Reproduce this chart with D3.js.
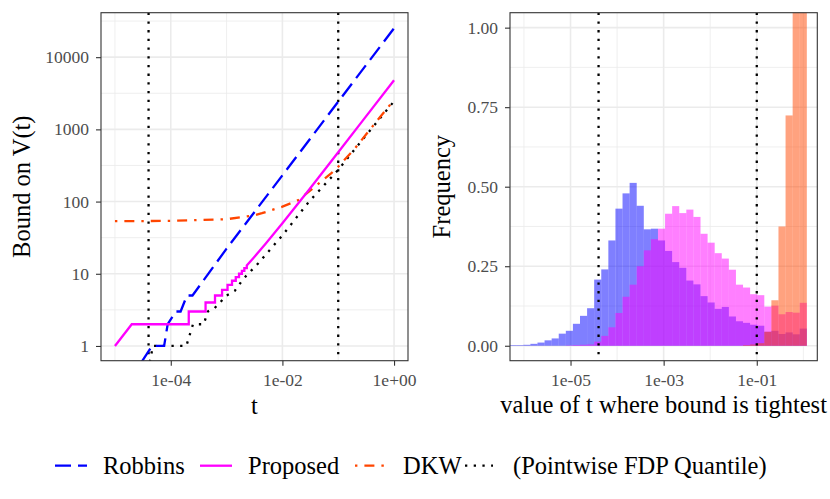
<!DOCTYPE html>
<html>
<head>
<meta charset="utf-8">
<script src="https://cdn.jsdelivr.net/npm/d3@7"></script>
<style>
  body { margin: 0; background: #fff; }
  svg text { font-family: 'Liberation Serif', 'DejaVu Serif', 'Noto Serif', serif; }
</style>
</head>
<body>
<svg id="chart" width="830" height="499"></svg>
<script>
// ---- left panel: bounds on V(t) ----
const robbinsT = [3e-5, 4.6e-5, 7.6e-5, 8.8e-5, 1.23e-4, 1.5e-4, 1.95e-4, 2.45e-4, 1e-3, 1e-2, 1e-1, 1];
const robbinsV = [0.6, 1, 1, 2, 3, 3, 5, 5, 22.3, 231, 2420, 25100];

const proposedT = [1e-5, 2e-5, 2.1e-4, 2.1e-4, 4.2e-4, 4.2e-4, 6.2e-4, 6.2e-4, 8.3e-4, 8.3e-4,
  1.04e-3, 1.04e-3, 1.25e-3, 1.25e-3, 1.46e-3, 1.46e-3, 1.67e-3, 1.67e-3, 1.88e-3, 1.88e-3,
  2.08e-3, 2.08e-3, 2.3e-3, 2.3e-3, 3e-3, 5e-3, 1e-2, 3e-2, 1e-1, 3e-1, 1];
const proposedV = [1, 2, 2, 3, 3, 4, 4, 5, 5, 6,
  6, 7, 7, 8, 8, 9, 9, 10, 10, 11,
  11, 12, 12, 13, 16.4, 26, 50, 146, 482, 1442, 4800];

const dkwT = [1e-5, 1e-4, 1e-3, 3e-3, 4.3e-3, 1e-2, 1.94e-2, 3.84e-2, 7.64e-2, 1e-1, 2e-1, 4.56e-1, 1];
const dkwV = [53.5, 54, 57, 64, 69, 85, 105, 161, 250, 304, 547, 1214, 2555];

const quantT = [4.2e-5, 4.8e-5, 1.9e-4, 2.5e-4, 3.9e-4, 4.6e-4, 6e-4, 1e-3, 1.4e-3, 2e-3, 3.7e-3, 1e-2, 3e-2, 1e-1, 3e-1, 1];
const quantV = [0.6, 1, 1, 2, 2, 3, 3.3, 5, 5.8, 8.5, 14, 34, 100, 275, 790, 2450];

const vlineT = [4e-5, 0.1];

// ---- right panel: histogram of where each bound is tightest (log10 bins) ----
const binStart = -6.319, binWidth = 0.15224;
const robbinsFreq = [0.002, 0.002, 0.003, 0.006, 0.01, 0.017, 0.023, 0.038, 0.047, 0.069, 0.094, 0.118,
  0.208, 0.24, 0.331, 0.431, 0.479, 0.512, 0.44, 0.366, 0.368, 0.331, 0.298, 0.263, 0.245, 0.205,
  0.193, 0.156, 0.136, 0.116, 0.122, 0.092, 0.077, 0.072, 0.066, 0.063, 0.044, 0.047, 0.037, 0.042, 0.036, 0.054];
const proposedFreq = [0, 0, 0, 0, 0, 0, 0, 0, 0.001, 0.002, 0.003, 0.004,
  0.013, 0.031, 0.058, 0.103, 0.154, 0.192, 0.25, 0.30, 0.335, 0.368, 0.415, 0.439, 0.417, 0.428,
  0.405, 0.352, 0.324, 0.291, 0.274, 0.239, 0.192, 0.183, 0.162, 0.159, 0.123, 0.126, 0.099, 0.106, 0.104, 0.135];
const dkwFreq = [0, 0, 0, 0, 0, 0, 0, 0, 0, 0, 0, 0,
  0, 0, 0, 0, 0, 0, 0, 0, 0, 0, 0, 0, 0, 0,
  0, 0, 0, 0, 0, 0, 0, 0.002, 0.004, 0.008, 0.044, 0.143, 0.375, 0.724, 1.6, 2.4];

// ---- ticks ----
const leftXMajor = [1e-4, 1e-2, 1], leftXLabels = ["1e-04", "1e-02", "1e+00"];
const leftXMinor = [1e-5, 1e-3, 1e-1];
const leftYMajor = [1, 10, 100, 1000, 10000], leftYLabels = ["1", "10", "100", "1000", "10000"];
const leftYMinor = [3.1623, 31.623, 316.23, 3162.3, 31623];
const rightXMajor = [1e-5, 1e-3, 1e-1], rightXLabels = ["1e-05", "1e-03", "1e-01"];
const rightXMinor = [1e-6, 1e-4, 1e-2, 1];
const rightYMajor = [0, 0.25, 0.5, 0.75, 1], rightYLabels = ["0.00", "0.25", "0.50", "0.75", "1.00"];
const rightYMinor = [0.125, 0.375, 0.625, 0.875];

const seriesNames = ["Robbins", "Proposed", "DKW", "(Pointwise FDP Quantile)"];
const colors = {Robbins: "#0000FF", Proposed: "#FF00FF", DKW: "#FF4500", quant: "#000000"};
const dashes = {Robbins: "16,7", Proposed: null, DKW: "2.4,7,10,7", quant: "2.3,6.4"};

const FONT = "'Liberation Serif', 'DejaVu Serif', 'Noto Serif', serif";
const svg = d3.select("#chart");
const tickFont = 17.5, titleFont = 24.5;

const xL = d3.scaleLog().domain([Math.pow(10, -5.25), Math.pow(10, 0.25)]).range([101, 408]);
const yL = d3.scaleLog().domain([Math.pow(10, -0.204), Math.pow(10, 4.616)]).range([360.7, 12.7]);
const xR = d3.scaleLog().domain([Math.pow(10, -6.3), Math.pow(10, 0.3)]).range([510, 817.3]);
const yR = d3.scaleLinear().domain([-0.047, 1.047]).range([360.7, 12.7]);

function label(sel, size) {
  return sel.attr("font-family", FONT).style("font-family", FONT).style("font-size", size + "px");
}

function drawFrame(id, x, y, xMajor, xMinor, yMajor, yMinor, xLabels, yLabels) {
  let [x0, x1] = x.range(), [y1, y0] = y.range();
  let g = svg.append("g");
  g.append("clipPath").attr("id", id)
    .append("rect").attr("x", x0).attr("y", y0).attr("width", x1 - x0).attr("height", y1 - y0);
  g.append("rect").attr("x", x0).attr("y", y0).attr("width", x1 - x0).attr("height", y1 - y0)
    .attr("fill", "#fff");

  let grid = g.append("g");
  [[xMinor, 0.8], [xMajor, 1.6]].forEach(([vals, w]) => {
    grid.selectAll(null).data(vals).enter().append("line")
      .attr("x1", d => x(d)).attr("x2", d => x(d)).attr("y1", y0).attr("y2", y1)
      .attr("stroke", "#EBEBEB").attr("stroke-width", w);
  });
  [[yMinor, 0.8], [yMajor, 1.6]].forEach(([vals, w]) => {
    grid.selectAll(null).data(vals).enter().append("line")
      .attr("x1", x0).attr("x2", x1).attr("y1", d => y(d)).attr("y2", d => y(d))
      .attr("stroke", "#EBEBEB").attr("stroke-width", w);
  });

  let xAxis = d3.axisBottom(x).tickValues(xMajor)
    .tickFormat((d, i) => xLabels[i]).tickSize(5).tickPadding(8);
  let yAxis = d3.axisLeft(y).tickValues(yMajor)
    .tickFormat((d, i) => yLabels[i]).tickSize(5).tickPadding(7);

  let ax = svg.append("g").attr("transform", `translate(0,${y1})`).call(xAxis);
  let ay = svg.append("g").attr("transform", `translate(${x0},0)`).call(yAxis);
  [ax, ay].forEach(a => {
    a.attr("font-family", FONT);
    a.select(".domain").remove();
    a.selectAll("line").attr("stroke", "#333").attr("stroke-width", 1.1);
    label(a.selectAll("text").attr("fill", "#4D4D4D"), tickFont);
  });

  let plot = svg.append("g").attr("clip-path", `url(#${id})`);
  return {plot, x0, x1, y0, y1};
}

function drawBorder(p) {
  svg.append("rect").attr("x", p.x0).attr("y", p.y0)
    .attr("width", p.x1 - p.x0).attr("height", p.y1 - p.y0)
    .attr("fill", "none").attr("stroke", "#333").attr("stroke-width", 1.1);
}

function drawVlines(p, x) {
  p.plot.selectAll(null).data(vlineT).enter().append("line")
    .attr("x1", d => x(d)).attr("x2", d => x(d)).attr("y1", p.y0).attr("y2", p.y1)
    .attr("stroke", "#000").attr("stroke-width", 2.3).attr("stroke-dasharray", dashes.quant);
}

// ---- left panel ----
const pL = drawFrame("clipL", xL, yL, leftXMajor, leftXMinor, leftYMajor, leftYMinor, leftXLabels, leftYLabels);
drawVlines(pL, xL);

const lineL = d3.line().x(d => xL(d[0])).y(d => yL(d[1]));
const curves = [
  {key: "quant", data: d3.zip(quantT, quantV)},
  {key: "DKW", data: d3.zip(dkwT, dkwV)},
  {key: "Robbins", data: d3.zip(robbinsT, robbinsV)},
  {key: "Proposed", data: d3.zip(proposedT, proposedV)}
];
pL.plot.selectAll(".curve").data(curves).enter().append("path")
  .attr("class", "curve")
  .attr("d", d => lineL(d.data))
  .attr("fill", "none")
  .attr("stroke", d => colors[d.key])
  .attr("stroke-width", 2.3)
  .attr("stroke-dasharray", d => dashes[d.key]);
drawBorder(pL);

label(svg.append("text"), titleFont).attr("x", (pL.x0 + pL.x1) / 2).attr("y", 414)
  .attr("text-anchor", "middle").text("t");
label(svg.append("text"), titleFont).attr("transform", `translate(30,${(pL.y0 + pL.y1) / 2}) rotate(-90)`)
  .attr("text-anchor", "middle").text("Bound on V(t)");

// ---- right panel ----
const pR = drawFrame("clipR", xR, yR, rightXMajor, rightXMinor, rightYMajor, rightYMinor, rightXLabels, rightYLabels);

const hists = [
  {key: "Robbins", vals: robbinsFreq},
  {key: "Proposed", vals: proposedFreq},
  {key: "DKW", vals: dkwFreq}
];
hists.forEach(h => {
  pR.plot.append("g").selectAll("rect").data(h.vals).enter().append("rect")
    .attr("x", (d, i) => xR(Math.pow(10, binStart + i * binWidth)))
    .attr("width", (d, i) => xR(Math.pow(10, binStart + (i + 1) * binWidth)) - xR(Math.pow(10, binStart + i * binWidth)))
    .attr("y", d => yR(d))
    .attr("height", d => yR(0) - yR(d))
    .attr("fill", colors[h.key])
    .attr("fill-opacity", 0.5);
});
drawVlines(pR, xR);
drawBorder(pR);

label(svg.append("text"), titleFont).attr("x", (pR.x0 + pR.x1) / 2).attr("y", 413)
  .attr("text-anchor", "middle").text("value of t where bound is tightest");
label(svg.append("text"), titleFont).attr("transform", `translate(450,${(pR.y0 + pR.y1) / 2}) rotate(-90)`)
  .attr("text-anchor", "middle").text("Frequency");

// ---- legend ----
const legendKeys = ["Robbins", "Proposed", "DKW", "quant"];
const keyX = [55, 200, 355, 465];
const legendY = 465.7;
const leg = svg.append("g");
legendKeys.forEach((k, i) => {
  leg.append("line").attr("x1", keyX[i]).attr("x2", keyX[i] + (k === "quant" ? 28 : 32))
    .attr("y1", legendY).attr("y2", legendY)
    .attr("stroke", colors[k]).attr("stroke-width", 2.3)
    .attr("stroke-dasharray", dashes[k]);
  label(leg.append("text"), titleFont).attr("x", keyX[i] + 48).attr("y", 474)
    .text(seriesNames[i]);
});
</script>
</body>
</html>
